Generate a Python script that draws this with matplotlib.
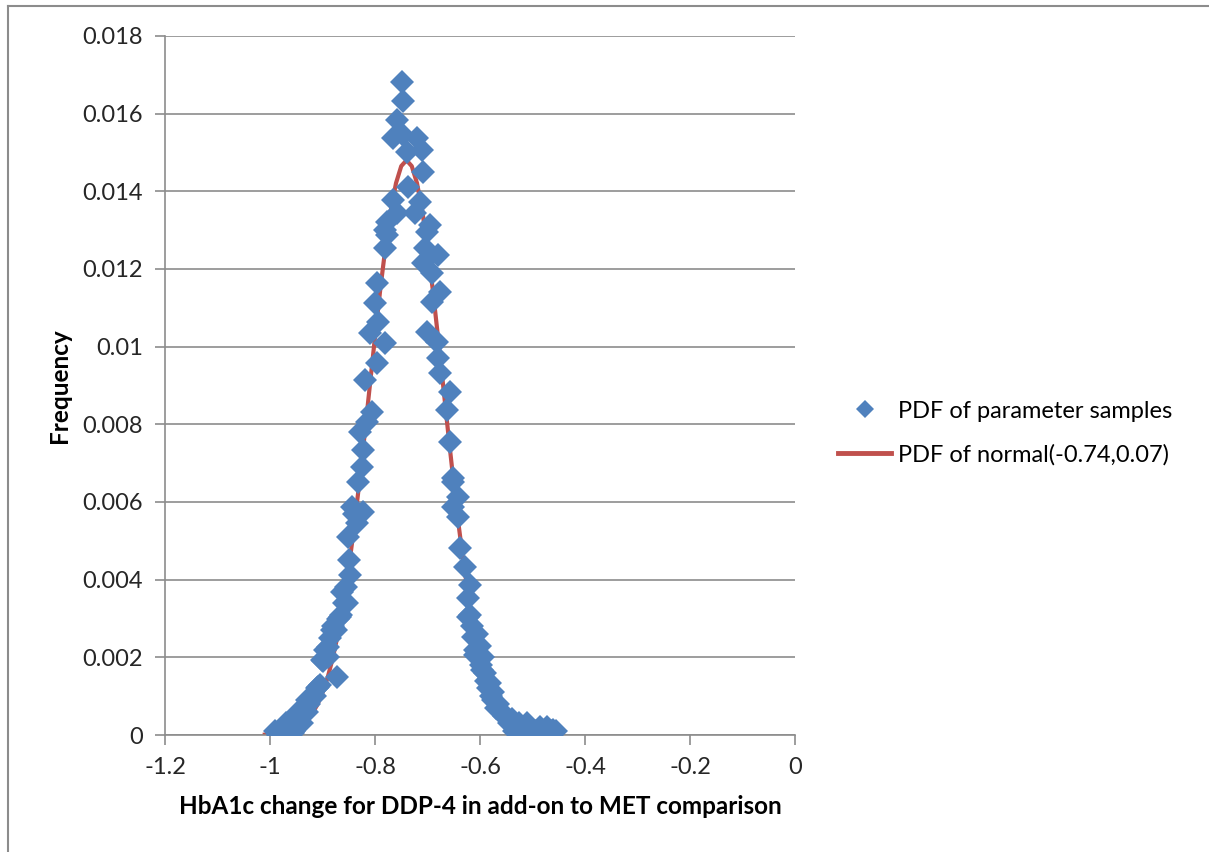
import matplotlib.pyplot as plt
from matplotlib.lines import Line2D

plt.rcParams['font.family'] = ['Lato', 'DejaVu Sans']

# sampled PDF points (x, frequency)
samp_x = [-0.7491, -0.7472, -0.7581, -0.7657, -0.7467, -0.7200, -0.7390, -0.7105, -0.7086, -0.7371,
          -0.7657, -0.7581, -0.7143, -0.7238, -0.6952, -0.7771, -0.7810,
          -0.7777, -0.7810, -0.7015, -0.7048, -0.6800, -0.7086, -0.6920, -0.7968, -0.6762, -0.8000,
          -0.6920, -0.7943, -0.8095, -0.7015, -0.7810, -0.6825, -0.7968, -0.6800, -0.6762, -0.8190,
          -0.6571, -0.8063, -0.6634, -0.8158, -0.8286, -0.6571, -0.8229, -0.8253, -0.6514,
          -0.8324, -0.8444, -0.8229, -0.8349, -0.8514, -0.8476, -0.8634, -0.8539, -0.8667, -0.8825,
          -0.8895, -0.9015, -0.8730, -0.9086, -0.9301, -0.9491, -0.9810, -0.9562,
          -0.990, -0.975, -0.970, -0.965, -0.955, -0.945, -0.940, -0.935, -0.925, -0.920, -0.915,
          -0.905, -0.900, -0.895, -0.885, -0.880, -0.870, -0.860, -0.855,
          -0.985, -0.960, -0.950, -0.930, -0.910, -0.890, -0.875, -0.865, -0.850, -0.840,
          -0.6514, -0.6419, -0.6514, -0.6419, -0.6381, -0.6286, -0.6190, -0.6229, -0.6229, -0.6133,
          -0.6095, -0.5968, -0.5810, -0.5752, -0.5491, -0.5110, -0.4730, -0.4610,
          -0.620, -0.605, -0.600, -0.595, -0.590, -0.585, -0.575, -0.570, -0.560, -0.545, -0.530,
          -0.520, -0.505, -0.495, -0.490, -0.480, -0.465, -0.455,
          -0.615, -0.610, -0.598, -0.588, -0.580, -0.565, -0.555, -0.540, -0.535, -0.525, -0.515,
          -0.500, -0.485, -0.475]
samp_y = [0.01682, 0.01633, 0.01584, 0.01537, 0.01545, 0.01537, 0.01501, 0.01506, 0.01450, 0.01411,
          0.01378, 0.01344, 0.01373, 0.01344, 0.01313, 0.01321, 0.01300,
          0.01288, 0.01253, 0.01296, 0.01254, 0.01236, 0.01215, 0.01190, 0.01164, 0.01141, 0.01112,
          0.01116, 0.01064, 0.01035, 0.01039, 0.01009, 0.01013, 0.00958, 0.00971, 0.00932, 0.00914,
          0.00884, 0.00833, 0.00837, 0.00807, 0.00781, 0.00755, 0.00734, 0.00691, 0.00662,
          0.00652, 0.00588, 0.00575, 0.00546, 0.00511, 0.00412, 0.00369, 0.00340, 0.00305, 0.00270,
          0.00227, 0.00193, 0.00150, 0.00124, 0.00090, 0.00056, 0.00013, 0.00005,
          0.0001, 0.0002, 0.0003, 0.0000, 0.0001, 0.0004, 0.0003, 0.0007, 0.0008, 0.0010, 0.0010,
          0.0013, 0.0019, 0.0022, 0.0025, 0.0028, 0.0030, 0.0034, 0.0038,
          0.0000, 0.0002, 0.0003, 0.0006, 0.0012, 0.0020, 0.0027, 0.0031, 0.0045, 0.0057,
          0.00652, 0.00614, 0.00588, 0.00562, 0.00482, 0.00433, 0.00386, 0.00353, 0.00305, 0.00253,
          0.00206, 0.00167, 0.00134, 0.00090, 0.00047, 0.00031, 0.00021, 0.00013,
          0.0031, 0.0026, 0.0023, 0.0020, 0.0016, 0.0012, 0.0011, 0.0007, 0.0006, 0.0003, 0.0002,
          0.0001, 0.0002, 0.0001, 0.0000, 0.0001, 0.0001, 0.0001,
          0.0028, 0.0022, 0.0018, 0.0014, 0.0010, 0.0008, 0.0005, 0.0004, 0.0001, 0.0003, 0.0000,
          0.0000, 0.0002, 0.0000]

# fitted normal(-0.74, 0.07) curve
norm_x = [-1.01, -1.00, -0.99, -0.98, -0.97, -0.96, -0.95, -0.94, -0.93, -0.92, -0.91, -0.90,
          -0.89, -0.88, -0.87, -0.86, -0.85, -0.84, -0.83, -0.82, -0.81, -0.80, -0.79, -0.78,
          -0.77, -0.76, -0.75, -0.74, -0.73, -0.72, -0.71, -0.70, -0.69, -0.68, -0.67, -0.66,
          -0.65, -0.64, -0.63, -0.62, -0.61, -0.60, -0.59, -0.58, -0.57, -0.56, -0.55, -0.54,
          -0.53, -0.52, -0.51, -0.50, -0.49, -0.48, -0.47]
norm_y = [0.0000087, 0.0000149, 0.0000251, 0.0000414, 0.0000669, 0.000106, 0.000164, 0.000250,
          0.000372, 0.000543, 0.000775, 0.001086, 0.001490, 0.002003, 0.002639, 0.003406,
          0.004305, 0.005334, 0.006477, 0.007703, 0.008977, 0.01025, 0.01147, 0.01257, 0.01350,
          0.01421, 0.01465, 0.0148, 0.01465, 0.01421, 0.01350, 0.01257, 0.01147, 0.01025,
          0.008977, 0.007703, 0.006477, 0.005334, 0.004305, 0.003406, 0.002639, 0.002003,
          0.001490, 0.001086, 0.000775, 0.000543, 0.000372, 0.000250, 0.000164, 0.000106,
          0.0000669, 0.0000414, 0.0000251, 0.0000149, 0.0000087]

xticks = [-1.2, -1, -0.8, -0.6, -0.4, -0.2, 0]
xlabels = ['-1.2', '-1', '-0.8', '-0.6', '-0.4', '-0.2', '0']
yticks = [0, 0.002, 0.004, 0.006, 0.008, 0.01, 0.012, 0.014, 0.016, 0.018]
ylabels = ['0', '0.002', '0.004', '0.006', '0.008', '0.01', '0.012', '0.014', '0.016', '0.018']

blue = '#4F81BD'
red = '#C0504D'
grid = '#8C8C8C'

fig = plt.figure(figsize=(12.09, 8.52), dpi=100)
ax = fig.add_axes([165/1209, 1 - 735/852, 630/1209, 699/852])

ax.plot(norm_x, norm_y, color=red, lw=3, zorder=2)
ax.plot(samp_x, samp_y, 'D', color=blue, ms=12, mec=blue, mew=0, zorder=3)

ax.set_xlim(-1.2, 0)
ax.set_ylim(0, 0.018)
ax.set_xticks(xticks)
ax.set_xticklabels(xlabels)
ax.set_yticks(yticks)
ax.set_yticklabels(ylabels)
ax.tick_params(labelsize=17, colors=grid, labelcolor='#262626', length=7, width=1.2, pad=9)
ax.yaxis.grid(True, color=grid, lw=1.2)
ax.set_axisbelow(True)
for s in ['top', 'right']:
    ax.spines[s].set_visible(False)
for s in ['left', 'bottom']:
    ax.spines[s].set_color(grid)
    ax.spines[s].set_linewidth(1.2)

ax.set_xlabel('HbA1c change for DDP-4 in add-on to MET comparison', fontsize=17.5,
              fontweight='bold', labelpad=12)
ax.set_ylabel('Frequency', fontsize=17.5, fontweight='bold', labelpad=8)

handles = [Line2D([], [], ls='none', marker='D', color=blue, ms=9, mew=0),
           Line2D([], [], color=red, lw=3.5)]
fig.legend(handles, ['PDF of parameter samples', 'PDF of normal(-0.74,0.07)'],
           loc='center left', bbox_to_anchor=(838/1209, 1 - 433/852), frameon=False,
           fontsize=17, handlelength=2.25, labelspacing=0.95, handletextpad=0.3,
           borderpad=0, borderaxespad=0)

# outer chart border
fig.add_artist(Line2D([8/1209, 8/1209], [0, 1 - 6/852], color='#8C8C8C', lw=1.5))
fig.add_artist(Line2D([8/1209, 1], [1 - 6/852, 1 - 6/852], color='#8C8C8C', lw=1.5))

fig.savefig('out.png', dpi=100)
